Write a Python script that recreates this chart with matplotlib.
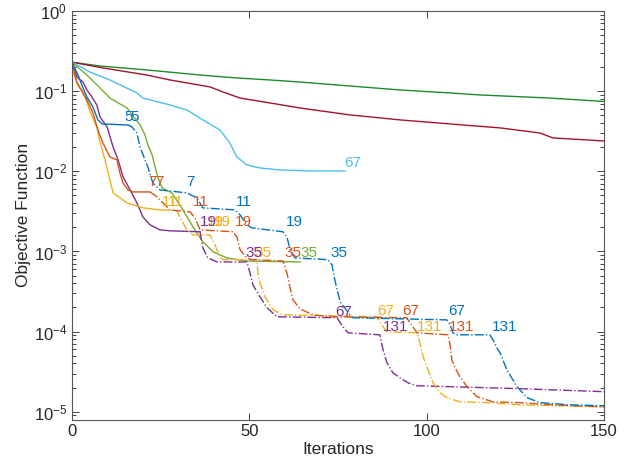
import numpy as np
import matplotlib
matplotlib.use('Agg')
import matplotlib.pyplot as plt
from matplotlib.ticker import LogLocator, FixedLocator, NullFormatter

plt.rcParams['font.family'] = ['Liberation Sans', 'DejaVu Sans']
plt.rcParams['mathtext.default'] = 'regular'

# цвета (палитра MATLAB)
C_BLUE = '#0072BD'
C_ORANGE = '#D95319'
C_YELLOW = '#EDB120'
C_PURPLE = '#7E2F8E'
C_GREEN = '#77AC30'
C_LBLUE = '#4DBEEE'
C_RED = '#A2142F'
C_DGREEN = '#1a8c2a'

# --- данные ---
dgreen_x = [0, 7.9, 21.1, 36.1, 46.5, 55.8, 64.3, 78.4, 92.5, 106.6, 115.0, 134.8, 150]
dgreen_y = [0.23, 0.206, 0.184, 0.159, 0.146, 0.138, 0.130, 0.116, 0.1035, 0.0950, 0.0897, 0.082, 0.0744]

red_x = [0, 8.7, 21.1, 27.6, 38.9, 42.6, 47.4, 55.8, 64.3, 78.4, 92.5, 106.6, 120.7, 131.9, 135.6, 150]
red_y = [0.23, 0.195, 0.159, 0.138, 0.113, 0.0977, 0.082, 0.0713, 0.0617, 0.0505, 0.0438, 0.039,
         0.0348, 0.0301, 0.0261, 0.0239]

lblue_x = [0, 5.1, 10.7, 18.3, 20.0, 27.6, 32.4, 36.9, 41.7, 44.5, 46.5, 49.3, 53.0, 58.6, 67.1, 77.0]
lblue_y = [0.23, 0.173, 0.138, 0.0950, 0.082, 0.0673, 0.0583, 0.0438, 0.0328, 0.0226, 0.0151, 0.0120,
           0.0110, 0.0104, 0.0101, 0.0101]

green_x = [0, 4.2, 7.9, 10.7, 15.5, 19.2, 20.6, 21.4, 22.6, 24.0, 25.4, 28.2, 31.3, 34.1, 36.9, 39.8,
           43.7, 49.3, 64.3]
green_y = [0.23, 0.159, 0.110, 0.082, 0.0617, 0.0379, 0.0284, 0.0213, 0.0160, 0.00902, 0.00621, 0.00538,
           0.00330, 0.00203, 0.00132, 0.00099, 0.00083, 0.00076, 0.00074]

purple_solid_x = [0, 1.4, 3.1, 4.2, 5.6, 7.0, 7.9, 9.9, 11.6, 13.0, 14.4, 16.4, 18.3, 20.0, 22.0, 24.8, 27.6, 36.1]
purple_solid_y = [0.23, 0.150, 0.130, 0.1035, 0.0847, 0.0673, 0.0477, 0.0358, 0.0201, 0.0139, 0.00851,
                  0.00586, 0.00404, 0.00270, 0.00215, 0.00186, 0.00181, 0.00176]
purple_dash_x = [36.1, 36.9, 38.3, 40.9, 49.3, 50.2, 51.0, 53.0, 55.0, 57.8, 74.7, 76.4, 77.8, 86.8, 87.7,
                 88.8, 90.5, 92.5, 94.7, 97.3, 107.4, 126.3, 150]
purple_dash_y = [0.00176, 0.00111, 0.00083, 0.00074, 0.00074, 0.00054, 0.000384, 0.000272, 0.000198,
                 0.000153, 0.000149, 0.000115, 0.0000966, 0.0000912, 0.0000593, 0.0000408, 0.0000306,
                 0.0000265, 0.0000230, 0.0000211, 0.0000205, 0.0000194, 0.0000178]

yellow_solid_x = [0, 0.3, 1.4, 3.1, 4.2, 5.1, 7.0, 7.9, 9.3, 10.7, 11.6, 15.5, 20.0, 24.8]
yellow_solid_y = [0.23, 0.173, 0.130, 0.0977, 0.0733, 0.0551, 0.0358, 0.0233, 0.0139, 0.00781, 0.00538,
                  0.00404, 0.00350, 0.00330]
yellow_dash_x = [24.8, 29.6, 30.4, 32.4, 34.1, 38.9, 40.3, 41.7, 42.6, 52.2, 52.4, 53.0, 54.4, 56.7, 59.5,
                 86.0, 87.7, 88.8, 97.3, 98.1, 99.0, 100.4, 101.8, 103.7, 105.7, 109.4, 117.0, 126.3, 150]
yellow_dash_y = [0.00330, 0.00321, 0.00270, 0.00186, 0.00161, 0.00161, 0.00121, 0.000857, 0.00079, 0.00079,
                 0.00054, 0.000406, 0.000272, 0.000187, 0.000162, 0.000153, 0.000115, 0.0000995, 0.0000966,
                 0.0000725, 0.0000485, 0.0000334, 0.0000230, 0.0000173, 0.0000150, 0.0000133, 0.0000130,
                 0.0000122, 0.0000115]

orange_solid_x = [0, 1.4, 4.2, 5.9, 7.3, 8.7, 10.7, 12.7, 13.5, 14.4, 15.8, 17.2, 22.0]
orange_solid_y = [0.23, 0.127, 0.0777, 0.0535, 0.0328, 0.0226, 0.0151, 0.0139, 0.00955, 0.00716, 0.00586,
                  0.00553, 0.00553]
orange_dash_x = [22.0, 24.0, 24.8, 26.8, 27.6, 33.3, 34.7, 36.1, 45.4, 46.5, 47.4, 49.3, 50.7, 59.5, 60.6,
                 61.5, 62.3, 64.3, 67.9, 73.6, 94.4, 95.3, 97.3, 106.0, 106.6, 107.1, 108.0, 109.4, 111.4,
                 114.2, 118.7, 126.3, 135.6, 150]
orange_dash_y = [0.00553, 0.00480, 0.00440, 0.00360, 0.00330, 0.00312, 0.00262, 0.00186, 0.00176, 0.00152,
                 0.00105, 0.00083, 0.00079, 0.00076, 0.00054, 0.000352, 0.000249, 0.000192, 0.000162,
                 0.000153, 0.000149, 0.000129, 0.0000966, 0.0000912, 0.0000684, 0.0000445, 0.0000354,
                 0.0000273, 0.0000205, 0.0000154, 0.0000133, 0.0000130, 0.0000122, 0.0000115]

blue_solid_x = [0, 1.7, 3.1, 4.2, 5.9, 7.3, 8.5, 15.8]
blue_solid_y = [0.23, 0.159, 0.110, 0.0847, 0.0636, 0.0438, 0.0390, 0.0379]
blue_dash_x = [15.8, 16.9, 18.3, 19.2, 20.6, 21.4, 22.8, 24.8, 32.4, 35.2, 36.9, 46.0, 47.4, 49.3, 50.7,
               59.5, 60.6, 61.5, 62.9, 72.2, 73.3, 74.1, 75.6, 78.4, 79.2, 105.7, 106.6, 107.4, 108.5,
               117.8, 118.7, 119.8, 120.7, 122.6, 125.5, 128.3, 131.9, 140.4, 150]
blue_dash_y = [0.0379, 0.0358, 0.0301, 0.0201, 0.0139, 0.0113, 0.00716, 0.00586, 0.00538, 0.00466, 0.00350,
               0.00330, 0.00286, 0.00215, 0.00197, 0.00176, 0.00152, 0.00105, 0.00083, 0.00079, 0.00068,
               0.000443, 0.000235, 0.000162, 0.000149, 0.000140, 0.000122, 0.0000966, 0.0000912, 0.0000912,
               0.0000791, 0.0000628, 0.0000544, 0.0000334, 0.0000205, 0.0000150, 0.0000130, 0.0000122,
               0.0000119]

# подписи уровней: текст, x, y, цвет
label_text = ['5', '5', '7', '11', '19', '35', '67', '131',
              '7', '7', '11', '19', '35', '67', '131',
              '11', '11', '19', '19', '35', '67', '131',
              '19', '35', '67', '131',
              '35', '67']
label_x = [14.9, 16.4, 32.1, 46.2, 60.3, 73.0, 106.0, 118.4,
           21.4, 23.4, 34.1, 46.0, 60.0, 93.0, 106.3,
           25.4, 27.1, 38.1, 40.0, 51.5, 86.0, 97.3,
           36.1, 48.8, 74.1, 87.7,
           64.3, 76.7]
label_y = [0.0477, 0.0477, 0.00738, 0.00415, 0.00234, 0.00096, 0.000182, 0.000115,
           0.00738, 0.00738, 0.00415, 0.00234, 0.00096, 0.000182, 0.000115,
           0.00415, 0.00415, 0.00234, 0.00234, 0.00096, 0.000182, 0.000115,
           0.00234, 0.00096, 0.000177, 0.000115,
           0.00096, 0.0127]
label_color = [C_BLUE] * 8 + [C_ORANGE] * 7 + [C_YELLOW] * 7 + [C_PURPLE] * 4 + [C_GREEN, C_LBLUE]

fig = plt.figure(figsize=(6.28, 4.71), dpi=100)
ax = fig.add_axes([0.1146, 0.1093, 0.8472, 0.8673])

lw = 1.0
ax.semilogy(dgreen_x, dgreen_y, '-', color=C_DGREEN, lw=lw)
ax.semilogy(red_x, red_y, '-', color=C_RED, lw=lw)
ax.semilogy(lblue_x, lblue_y, '-', color=C_LBLUE, lw=lw)
ax.semilogy(green_x, green_y, '-', color=C_GREEN, lw=lw)
ax.semilogy(purple_solid_x, purple_solid_y, '-', color=C_PURPLE, lw=lw)
ax.semilogy(purple_dash_x, purple_dash_y, '-.', color=C_PURPLE, lw=lw)
ax.semilogy(yellow_solid_x, yellow_solid_y, '-', color=C_YELLOW, lw=lw)
ax.semilogy(yellow_dash_x, yellow_dash_y, '-.', color=C_YELLOW, lw=lw)
ax.semilogy(orange_solid_x, orange_solid_y, '-', color=C_ORANGE, lw=lw)
ax.semilogy(orange_dash_x, orange_dash_y, '-.', color=C_ORANGE, lw=lw)
ax.semilogy(blue_solid_x, blue_solid_y, '-', color=C_BLUE, lw=lw)
ax.semilogy(blue_dash_x, blue_dash_y, '-.', color=C_BLUE, lw=lw)

for t, x, y, c in zip(label_text, label_x, label_y, label_color):
    ax.text(x, y, t, color=c, fontsize=11, ha='left', va='center')

ax.set_xlim(0, 150)
ax.set_ylim(8e-6, 1)
ax.xaxis.set_major_locator(FixedLocator([0, 50, 100, 150]))
ax.yaxis.set_major_locator(LogLocator(base=10, numticks=10))
ax.yaxis.set_minor_locator(LogLocator(base=10, subs=np.arange(2, 10), numticks=10))
ax.yaxis.set_minor_formatter(NullFormatter())

axcol = '#262626'
for s in ax.spines.values():
    s.set_color('#555555')
    s.set_linewidth(0.8)
ax.tick_params(which='both', direction='in', top=True, right=True, colors=axcol,
               labelsize=12, width=0.6)
ax.tick_params(which='major', length=5)
ax.tick_params(which='minor', length=3)

ax.set_xlabel('Iterations', fontsize=12.5, color=axcol, labelpad=2)
ax.set_ylabel('Objective Function', fontsize=12.5, color=axcol, labelpad=2)

fig.savefig('out.png', dpi=100)
